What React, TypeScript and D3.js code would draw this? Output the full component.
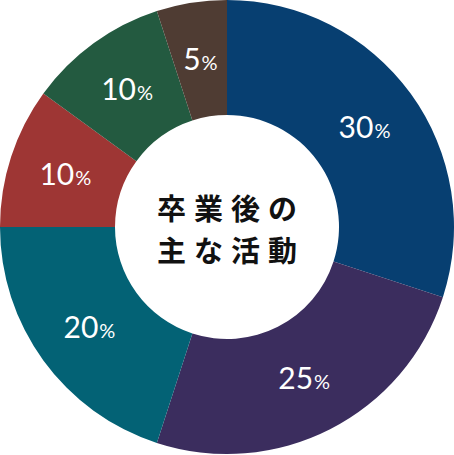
import { useEffect, useRef } from "react";
import * as d3 from "d3";

const categories = ["a", "b", "c", "d", "e", "f"];
const values = [30, 25, 20, 10, 10, 5];
const colors = ["#073f71", "#3b2d5e", "#036275", "#9e3634", "#235a40", "#4f3c33"];
const centerLines = ["卒業後の", "主な活動"];

export default function App() {
    const ref = useRef<SVGSVGElement>(null);
    const width = 454;
    const height = 455;
    const outer = 227;
    const inner = 112;

    useEffect(() => {
        const svg = d3.select(ref.current);
        svg.selectAll("*").remove();
        const g = svg.append("g").attr("transform", "translate(227,227)");

        const pie = d3.pie<number>().sort(null).value((d) => d);
        const arcs = pie(values);
        const arc = d3.arc<d3.PieArcDatum<number>>().innerRadius(inner).outerRadius(outer);
        const labelArc = d3.arc<d3.PieArcDatum<number>>().innerRadius(170).outerRadius(170);

        g.selectAll("path.slice")
            .data(arcs)
            .enter()
            .append("path")
            .attr("class", "slice")
            .attr("fill", (_d, i) => colors[i])
            .attr("d", arc);

        const labels = g.selectAll("text.label")
            .data(arcs)
            .enter()
            .append("text")
            .attr("class", "label")
            .attr("text-anchor", "middle")
            .attr("fill", "#fff")
            .attr("font-family", "Lato, 'Open Sans', sans-serif")
            .attr("font-weight", 400)
            .attr("transform", (d) => {
                const [x, y] = labelArc.centroid(d);
                return "translate(" + x + "," + (y + 11) + ")";
            });
        labels.append("tspan").attr("font-size", 30).text((d) => String(d.data));
        labels.append("tspan").attr("font-size", 20).attr("dx", 1).text("%");

        g.append("text")
            .attr("text-anchor", "middle")
            .attr("font-family", "'Noto Sans CJK JP', sans-serif")
            .attr("font-weight", 700)
            .attr("font-size", 29)
            .attr("letter-spacing", 8)
            .attr("fill", "#111")
            .selectAll("tspan")
            .data(centerLines)
            .enter()
            .append("tspan")
            .attr("x", 4)
            .attr("y", (_d, i) => -7 + i * 42)
            .text((d) => d);
    }, []);

    return (
        <svg
            ref={ref}
            width={width}
            height={height}
            style={{ position: "absolute", left: 0, top: 0, background: "#fff" }}
            data-categories={categories.join(",")}
        />
    );
}
